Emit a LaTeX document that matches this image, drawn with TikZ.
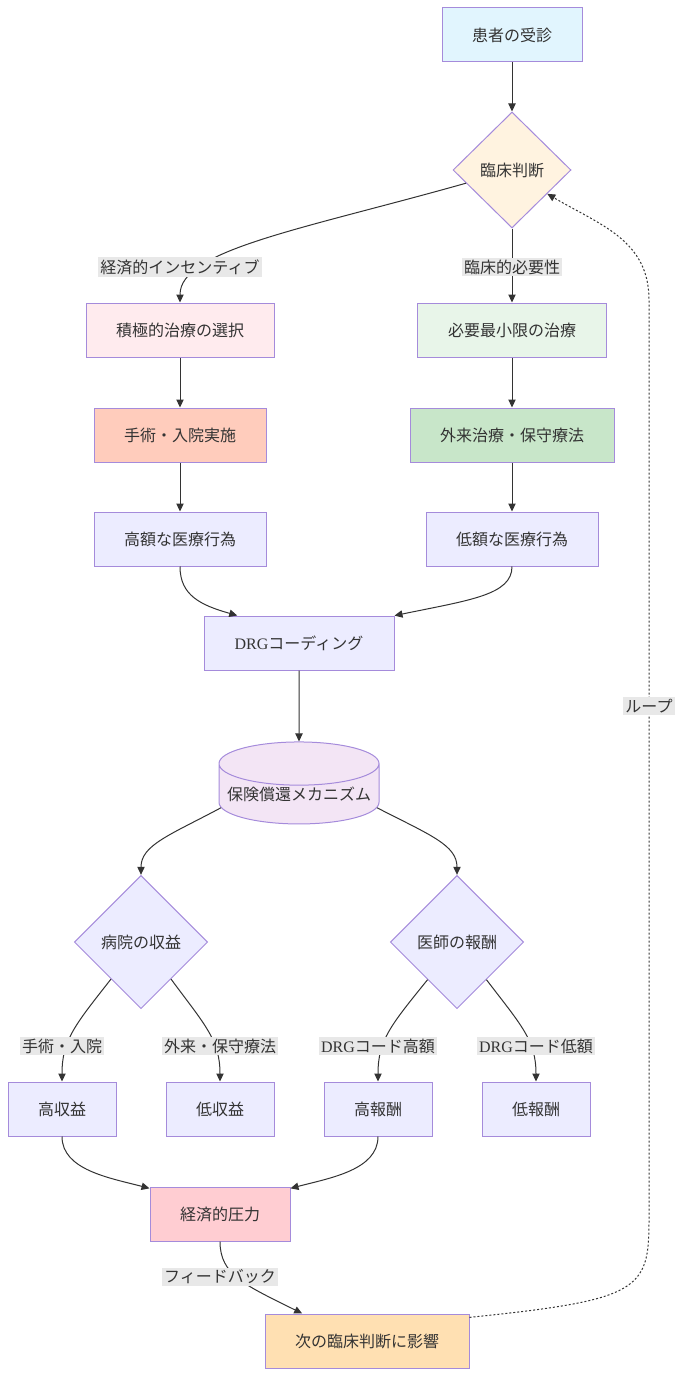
\documentclass[tikz,border=0pt]{standalone}
\usepackage{fontspec}
\setmainfont{Liberation Serif}
\newfontfamily\jp{Noto Sans CJK JP}
\usetikzlibrary{shapes.geometric,arrows.meta}
\definecolor{txt}{HTML}{333333}
\definecolor{bord}{HTML}{A58BDB}
\definecolor{lblbg}{HTML}{E8E8E8}
\definecolor{dflt}{HTML}{ECECFF}

\begin{document}
\begin{tikzpicture}[x=0.75pt,y=-0.75pt]
\useasboundingbox (0,0) rectangle (681,1377);
\tikzstyle{every node} = [text=txt,font=\jp\fontsize{12}{14}\selectfont]
\tikzstyle{box} = [rectangle,draw=bord,line width=0.75pt,fill=dflt,
minimum height=40.5pt,inner sep=0pt]
\tikzstyle{dia} = [diamond,aspect=1,draw=bord,line width=0.75pt,fill=dflt,inner sep=0pt]
\tikzstyle{lbl} = [fill=lblbg,inner sep=1.5pt]
\tikzstyle{edge} = [-{Triangle[length=6pt,width=5.5pt]},draw=txt,line width=0.75pt]
\node[box,fill={rgb,255:red,225;green,245;blue,254},minimum width=105pt] (a) at (512,35) {患者の受診};
\node[dia,fill={rgb,255:red,255;green,243;blue,224},minimum width=88.5pt,minimum height=87pt] (b) at (512,170) {臨床判断};
\node[box,fill={rgb,255:red,255;green,235;blue,238},minimum width=141pt] (c) at (180,330) {積極的治療の選択};
\node[box,fill={rgb,255:red,232;green,245;blue,233},minimum width=141.75pt] (d) at (512,330) {必要最小限の治療};
\node[box,fill={rgb,255:red,255;green,204;blue,188},minimum width=129pt] (e) at (180,435) {手術・入院実施};
\node[box,fill={rgb,255:red,200;green,230;blue,201},minimum width=153pt] (f) at (512,435) {外来治療・保守療法};
\node[box,minimum width=129pt] (g) at (180,539) {高額な医療行為};
\node[box,minimum width=129pt] (h) at (512,539) {低額な医療行為};
\node[box,minimum width=142.5pt] (i) at (299,643) {{\rmfamily DRG}コーディング};
\node[cylinder,shape border rotate=90,aspect=0.3,draw=bord,line width=0.75pt,
fill={rgb,255:red,243;green,229;blue,245},minimum width=120pt,minimum height=61.5pt,inner sep=0pt] (j) at (299,794) {保険償還メカニズム};
\node[dia,minimum size=100pt] (k) at (141,942) {病院の収益};
\node[dia,minimum size=100pt] (l) at (457,942) {医師の報酬};
\node[box,minimum width=81pt] (m) at (62,1109) {高収益};
\node[box,minimum width=81pt] (n) at (220,1109) {低収益};
\node[box,minimum width=81pt] (o) at (378,1109) {高報酬};
\node[box,minimum width=81pt] (p) at (536,1109) {低報酬};
\node[box,fill={rgb,255:red,255;green,205;blue,210},minimum width=105pt] (q) at (220,1214) {経済的圧力};
\node[box,fill={rgb,255:red,255;green,224;blue,178},minimum width=153pt] (r) at (367,1341) {次の臨床判断に影響};
\draw[edge] (a) -- (b);
\draw[edge] (b.196) .. controls (300,230) and (180,250) .. (c.north);
\draw[edge] (b) -- (d);
\draw[edge] (c) -- (e);
\draw[edge] (e) -- (g);
\draw[edge] (d) -- (f);
\draw[edge] (f) -- (h);
\draw[edge] (g.south) .. controls (180,595) and (200,605) .. (i.156);
\draw[edge] (h.south) .. controls (512,595) and (470,600) .. (i.16);
\draw[edge] (i) -- (j);
\draw[edge] (j.190) .. controls (170,835) and (141,845) .. (k.north);
\draw[edge] (j.350) .. controls (430,835) and (457,845) .. (l.north);
\draw[edge] (k.231) .. controls (75,1025) and (62,1040) .. (m.north);
\draw[edge] (k.309) .. controls (205,1025) and (220,1040) .. (n.north);
\draw[edge] (l.232) .. controls (391,1025) and (378,1040) .. (o.north);
\draw[edge] (l.308) .. controls (521,1025) and (536,1040) .. (p.north);
\draw[edge] (m.south) .. controls (62,1170) and (110,1178) .. (q.160);
\draw[edge] (o.south) .. controls (378,1170) and (330,1178) .. (q.20);
\draw[edge] (q.south) .. controls (220,1275) and (245,1285) .. (r.157);
\draw[edge,dash pattern=on 1.5pt off 1.5pt] (r.13) .. controls (640,1300) and (649,1290) .. (649,1220)
-- (649,300) .. controls (649,240) and (600,225) .. (b.326);
\node[lbl] (l1) at (180,267) {経済的インセンティブ};
\node[lbl] (l2) at (512,267) {臨床的必要性};
\node[lbl] (l3) at (62,1046) {手術・入院};
\node[lbl] (l4) at (220,1046) {外来・保守療法};
\node[lbl] (l5) at (378,1046) {{\rmfamily DRG}コード高額};
\node[lbl] (l6) at (536,1046) {{\rmfamily DRG}コード低額};
\node[lbl] (l7) at (220,1277) {フィードバック};
\node[lbl] (l8) at (649,706) {ループ};
\end{tikzpicture}
\end{document}
